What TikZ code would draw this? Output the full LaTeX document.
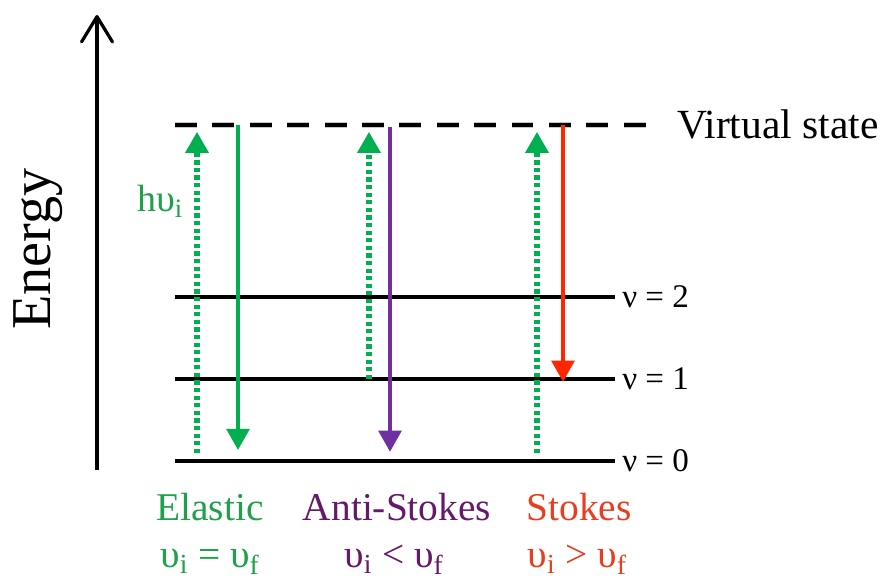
\documentclass[tikz,border=0pt]{standalone}
\usepackage{fontspec}
\setmainfont{Liberation Serif}
\usetikzlibrary{arrows.meta}
\definecolor{raygreen}{RGB}{0,176,80}
\definecolor{raypurple}{RGB}{112,48,160}
\definecolor{rayred}{RGB}{255,38,0}
\definecolor{txtgreen}{RGB}{32,160,76}
\definecolor{txtpurple}{RGB}{100,26,104}
\definecolor{txtred}{RGB}{232,62,32}
\tikzset{
  statelevel/.style={line width=3.2pt},
  pump/.style={->,raygreen,line width=3.6pt,dash pattern=on 3pt off 2.4pt},
  emit/.style={->,line width=3pt},
  bigtxt/.style={font=\fontsize{28}{30}\selectfont,inner sep=0},
  lvltxt/.style={font=\fontsize{23.5}{25}\selectfont,anchor=west,inner sep=0},
}
\begin{document}
\begin{tikzpicture}[>={Triangle[length=15pt,width=16pt]}]
\useasboundingbox (0,0) rectangle (22.2,14.625);

\coordinate(E0) at (2.425,2.875);
\coordinate(E1) at (2.425,14.25);
\draw[line width=2.3pt,-{Straight Barb[round,length=18pt,width=22pt]}](E0)--(E1);
\node[rotate=90,font=\fontsize{40}{42}\selectfont,inner sep=0](En) at (0.95,8.4){Energy};

\coordinate(V0) at (4.375,11.5);
\coordinate(V1) at (16.25,11.5);
\draw[black!22,line width=4.5pt,dash pattern=on 15.6pt off 11pt,yshift=-1.2pt](V0)--(V1);
\draw[line width=3.5pt,dash pattern=on 15.6pt off 11pt](V0)--(V1);
\node[bigtxt,anchor=west,font=\fontsize{29.5}{31}\selectfont](VS) at (16.92,11.52){Virtual state};

\coordinate(A2) at (4.375,7.2);
\coordinate(B2) at (15.375,7.2);
\coordinate(A1) at (4.375,5.15);
\coordinate(B1) at (15.375,5.15);
\coordinate(A0) at (4.375,3.1);
\coordinate(B0) at (15.375,3.1);
\draw[statelevel](A2)--(B2);
\draw[statelevel](A1)--(B1);
\draw[statelevel](A0)--(B0);
\node[lvltxt](L2) at (15.55,7.2){ν = 2};
\node[lvltxt](L1) at (15.55,5.15){ν = 1};
\node[lvltxt](L0) at (15.55,3.1){ν = 0};

\coordinate(P1) at (4.925,3.3);
\coordinate(P2) at (4.925,11.33);
\coordinate(Q1) at (5.95,11.5);
\coordinate(Q2) at (5.95,3.375);
\draw[pump](P1)--(P2);
\draw[emit,raygreen](Q1)--(Q2);
\node[font=\fontsize{27}{29}\selectfont,txtgreen,anchor=base west,inner sep=0](H) at (3.42,9.33){hυ\textsubscript{i}};

\coordinate(R1) at (9.225,5.15);
\coordinate(R2) at (9.225,11.33);
\coordinate(S1) at (9.75,11.45);
\coordinate(S2) at (9.75,3.33);
\draw[pump](R1)--(R2);
\draw[emit,raypurple](S1)--(S2);

\coordinate(T1) at (13.425,3.3);
\coordinate(T2) at (13.425,11.33);
\coordinate(U1) at (14.075,11.5);
\coordinate(U2) at (14.075,5.08);
\draw[pump](T1)--(T2);
\draw[emit,rayred](U1)--(U2);

\node[bigtxt,txtgreen,anchor=base](N1) at (5.25,1.62){Elastic};
\node[bigtxt,txtgreen,anchor=base](M1) at (5.25,0.45){υ\textsubscript{i} = υ\textsubscript{f}};
\node[bigtxt,txtpurple,anchor=base](N2) at (9.925,1.62){Anti-Stokes};
\node[bigtxt,txtpurple,anchor=base](M2) at (9.85,0.45){υ\textsubscript{i} < υ\textsubscript{f}};
\node[bigtxt,txtred,anchor=base](N3) at (14.475,1.62){Stokes};
\node[bigtxt,txtred,anchor=base](M3) at (14.43,0.45){υ\textsubscript{i} > υ\textsubscript{f}};
\end{tikzpicture}
\end{document}
